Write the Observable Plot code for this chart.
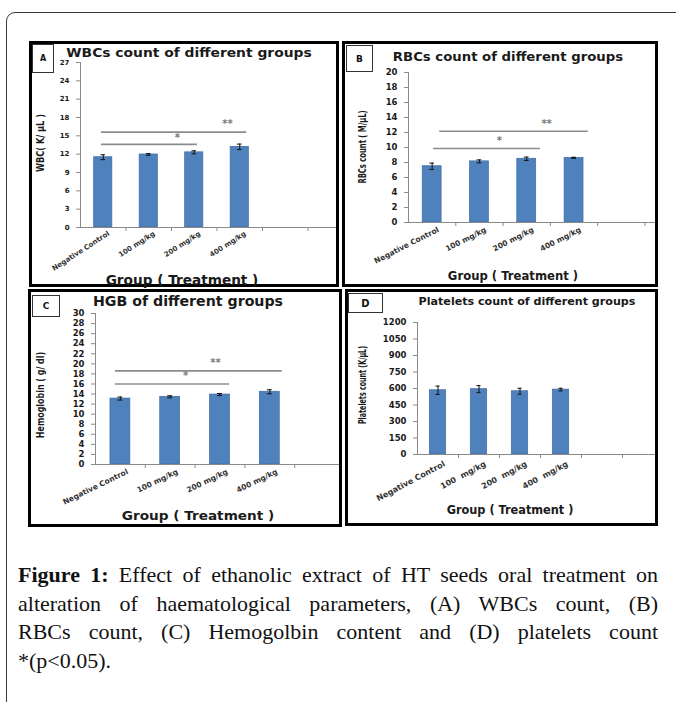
<!DOCTYPE html>
<html><head><meta charset="utf-8">
<script src="https://cdn.jsdelivr.net/npm/d3@7"></script>
<script src="https://cdn.jsdelivr.net/npm/@observablehq/plot@0.6"></script>
<style>
html,body{margin:0;padding:0;background:#fff;}
body{width:676px;height:702px;overflow:hidden;position:relative;}
#frame{position:absolute;left:6px;top:12px;width:700px;height:720px;border:1.5px solid #3a3a3a;border-radius:9px;box-sizing:border-box;}
.panel{position:absolute;border:3px solid #000;box-sizing:border-box;overflow:hidden;background:#fff;}
.panel svg{position:absolute;left:0;top:0;}
.tag{position:absolute;border:1.2px solid #333;box-sizing:border-box;font-family:"DejaVu Sans",sans-serif;font-weight:bold;display:flex;align-items:center;justify-content:center;background:#fff;color:#111;}
.lab{position:absolute;display:inline-block;white-space:pre;font-family:"DejaVu Sans",sans-serif;font-weight:bold;color:#1a1a1a;line-height:1;}
.cap{position:absolute;left:18px;width:640px;font-family:"Liberation Serif","Times New Roman",serif;font-size:22px;line-height:28.5px;color:#111;}
.jl{text-align:justify;text-align-last:justify;}
</style></head>
<body>
<div id="frame"></div>
<div class="cap" style="top:561px">
<div class="jl"><b>Figure 1:</b> Effect of ethanolic extract of HT seeds oral treatment on</div>
<div class="jl">alteration of haematological parameters, (A) WBCs count, (B)</div>
<div class="jl">RBCs count, (C) Hemogolbin content and (D) platelets count</div>
<div>*(p&lt;0.05).</div>
</div>
<script>
// ---------- data ----------
const groups = ["Negative Control", "100 mg/kg", "200 mg/kg", "400 mg/kg"];
const groupsD = ["Negative Control", "100  mg/kg", "200  mg/kg", "400  mg/kg"];
const wbc = [11.5, 11.95, 12.3, 13.2];
const wbcErr = [0.4, 0.15, 0.25, 0.45];
const rbc = [7.5, 8.15, 8.5, 8.62];
const rbcErr = [0.42, 0.2, 0.22, 0.08];
const hgb = [13.1, 13.45, 13.9, 14.45];
const hgbErr = [0.3, 0.2, 0.2, 0.4];
const plt = [584, 594, 575, 590];
const pltErr = [38, 32, 27, 12];
const wbcTicks = [0, 3, 6, 9, 12, 15, 18, 21, 24, 27];
const rbcTicks = [0, 2, 4, 6, 8, 10, 12, 14, 16, 18, 20];
const hgbTicks = [0, 2, 4, 6, 8, 10, 12, 14, 16, 18, 20, 22, 24, 26, 28, 30];
const pltTicks = [0, 150, 300, 450, 600, 750, 900, 1050, 1200];
// significance brackets (x in category-slot units, y in data units)
const wbcSig = [
  {x1: 0.46, x2: 2.57, y: 13.6, label: "*", lx: 2.13, ly: 14.6},
  {x1: 0.46, x2: 3.65, y: 15.6, label: "**", lx: 3.23, ly: 17.0}
];
const rbcSig = [
  {x1: 0.53, x2: 2.79, y: 9.87, label: "*", lx: 1.92, ly: 10.9},
  {x1: 0.66, x2: 3.8, y: 12.17, label: "**", lx: 2.92, ly: 13.2}
];
const hgbSig = [
  {x1: 0.4, x2: 2.69, y: 16.0, label: "*", lx: 1.81, ly: 17.6},
  {x1: 0.4, x2: 3.75, y: 18.6, label: "**", lx: 2.41, ly: 20.2}
];
const pltSig = [];

// ---------- layout ----------
function label(text, cx, cy, size, targetW, rot) {
  const el = document.createElement("div");
  el.className = "lab";
  el.textContent = text;
  el.style.left = cx + "px";
  el.style.top = cy + "px";
  el.style.fontSize = size + "px";
  document.body.appendChild(el);
  const w = el.offsetWidth;
  const k = targetW / w;
  el.style.transform = `translate(-50%,-50%)${rot ? ` rotate(${rot}deg)` : ""} scaleX(${k})`;
  return el;
}
function tag(text, left, top, w, h, size) {
  const el = document.createElement("div");
  el.className = "tag";
  el.textContent = text;
  Object.assign(el.style, {left: left + "px", top: top + "px", width: w + "px", height: h + "px", fontSize: size + "px"});
  document.body.appendChild(el);
}

function panel(cfg) {
  const div = document.createElement("div");
  div.className = "panel";
  Object.assign(div.style, {left: cfg.left + "px", top: cfg.top + "px", width: cfg.w + "px", height: cfg.h + "px"});
  document.body.appendChild(div);
  const W = cfg.w - 6, H = cfg.h - 6;
  const rows = cfg.values.map((v, i) => ({c: i + 0.5, v, e: cfg.errs[i], label: cfg.labels[i]}));
  const caps = rows.flatMap(d => [{c: d.c, y: d.v - d.e}, {c: d.c, y: d.v + d.e}]);
  const max = cfg.ticks[cfg.ticks.length - 1];
  const svg = Plot.plot({
    width: W, height: H,
    marginLeft: cfg.ml, marginTop: cfg.mt, marginBottom: cfg.mb, marginRight: 0,
    x: {domain: [0, 6], range: [cfg.ml, cfg.ml + 6 * cfg.slot], axis: null},
    y: {domain: [0, max], axis: null},
    style: {fontFamily: "'DejaVu Sans', sans-serif", fontWeight: "bold", fontSize: cfg.tickFont + "px", background: "white", overflow: "hidden", color: "#222"},
    marks: [
      Plot.ruleY(cfg.sig, {x1: "x1", x2: "x2", y: "y", stroke: "#8c8c8c", strokeWidth: 1.6}),
      Plot.text(cfg.sig, {x: "lx", y: "ly", text: "label", fill: "#777", fontSize: 10, lineAnchor: "middle"}),
      Plot.rectY(rows, {x1: d => d.c - 0.2, x2: d => d.c + 0.2, y1: 0, y2: "v", fill: "#4F81BD", stroke: "#3E6CA3", strokeWidth: 0.7}),
      Plot.ruleX(rows, {x: "c", y1: d => d.v - d.e, y2: d => d.v + d.e, stroke: "#111", strokeWidth: 1}),
      Plot.ruleY(caps, {x1: d => d.c - 0.05, x2: d => d.c + 0.05, y: "y", stroke: "#111", strokeWidth: 1}),
      Plot.ruleX([0], {y1: 0, y2: max, stroke: "#8a8a8a"}),
      Plot.ruleY([0], {x1: 0, x2: 6, stroke: "#8a8a8a"}),
      Plot.axisY(cfg.ticks, {tickSize: 4, tickPadding: cfg.tickPad, tickFormat: d => String(d), stroke: "#8a8a8a", fill: "#1a1a1a", label: null}),
      Plot.axisX([1, 2, 3, 4, 5, 6], {tickSize: 4, tickFormat: () => "", stroke: "#8a8a8a", label: null}),
      Plot.text(rows, {x: "c", y: 0, text: "label", rotate: cfg.rot, textAnchor: "end", lineAnchor: "top", dx: cfg.catDx, dy: cfg.catDy, fontSize: cfg.catFont, fill: "#333"})
    ]
  });
  div.appendChild(svg);
}

// Panel A
panel({left: 29, top: 41, w: 310, h: 246, ml: 48, mt: 18, mb: 57, slot: 45.5,
  values: wbc, errs: wbcErr, labels: groups, ticks: wbcTicks, sig: wbcSig,
  tickFont: 7, tickPad: 7, catFont: 7, rot: -33, catDx: 4, catDy: 3});
tag("A", 32, 44, 22, 29, 8);
label("WBCs count of different groups", 189, 52, 13, 245);
label("WBC( K/ µL )", 40, 143, 11, 58, -90);
label("Group ( Treatment )", 182, 280, 14, 153);

// Panel B
panel({left: 342, top: 41, w: 316, h: 246, ml: 63, mt: 28, mb: 62, slot: 47.3,
  values: rbc, errs: rbcErr, labels: groups, ticks: rbcTicks, sig: rbcSig,
  tickFont: 8.5, tickPad: 7, catFont: 7.5, rot: -27, catDx: 5, catDy: 4});
tag("B", 346, 45, 27, 27, 9);
label("RBCs count of different groups", 508, 57, 12.5, 230);
label("RBCs count ( M/µL)", 363, 147, 10, 73, -90);
label("Group ( Treatment )", 513, 276, 12, 130);

// Panel C
panel({left: 28, top: 289, w: 314, h: 238, ml: 64, mt: 21, mb: 60, slot: 49.8,
  values: hgb, errs: hgbErr, labels: groups, ticks: hgbTicks, sig: hgbSig,
  tickFont: 8.5, tickPad: 7, catFont: 7.5, rot: -26, catDx: 6, catDy: 4});
tag("C", 32, 295, 28, 22, 9);
label("HGB of different groups", 188, 302, 13.5, 190);
label("Hemoglobin ( g/ dl)", 40, 395, 11, 86, -90);
label("Group ( Treatment )", 198, 515, 13, 153);

// Panel D
panel({left: 345, top: 289, w: 313, h: 237, ml: 69, mt: 30, mb: 69, slot: 41,
  values: plt, errs: pltErr, labels: groupsD, ticks: pltTicks, sig: pltSig,
  tickFont: 8.5, tickPad: 7, catFont: 8, rot: -28, catDx: 5, catDy: 6});
tag("D", 348, 293, 35, 20, 10);
label("Platelets count of different groups", 527, 301, 11, 217);
label("Platelets count (K/µL)", 362, 385, 10.5, 78, -90);
label("Group ( Treatment )", 510, 511, 11.5, 127);
</script>
</body></html>
